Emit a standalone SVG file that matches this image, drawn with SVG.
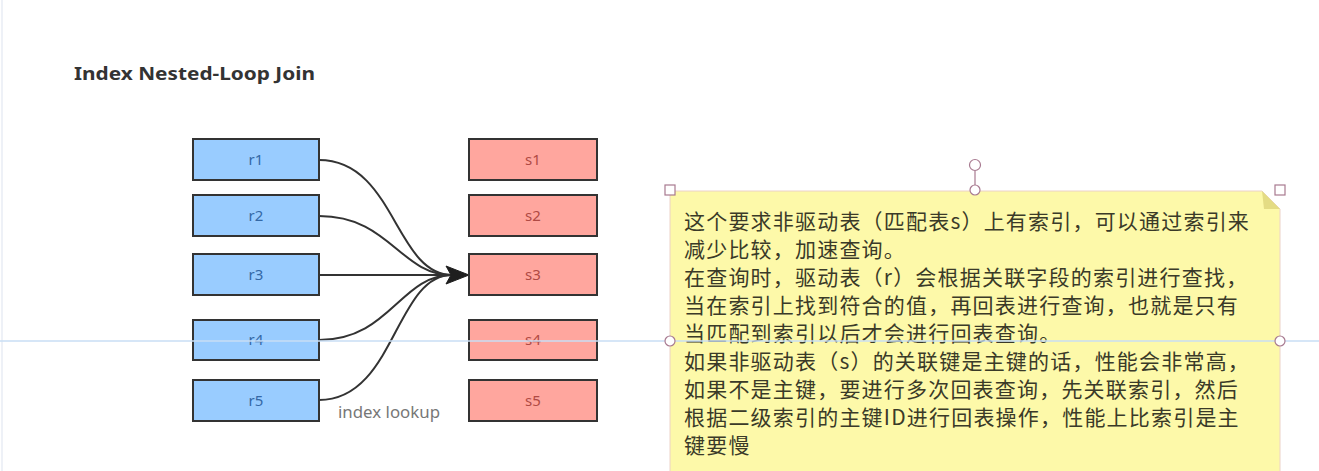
<svg xmlns="http://www.w3.org/2000/svg" width="1319" height="471" viewBox="0 0 1319 471">
<defs>
<style>
.r rect{fill:#99ccff;stroke:#333;stroke-width:2}
.r text{fill:#3468a6;font:15px "Noto Sans","Liberation Sans",sans-serif;text-anchor:middle}
.s rect{fill:#ffa69e;stroke:#333;stroke-width:2}
.s text{fill:#b04a44;font:15px "Noto Sans","Liberation Sans",sans-serif;text-anchor:middle}
.c path{fill:none;stroke:#333;stroke-width:2}
.c .head{fill:#1e1e1e;stroke:#1e1e1e;stroke-width:1}
.note text{font:21px "Noto Sans CJK SC","Noto Sans",sans-serif;fill:#3a3a28;letter-spacing:1.2px}
.h{fill:#fff;stroke:#a87a90;stroke-width:1.2}
</style>
</defs>
<rect width="1319" height="471" fill="#fff"/>
<line x1="2" y1="0" x2="2" y2="471" stroke="#e8ecf4" stroke-width="1.5"/>
<text x="74" y="80" font-family="Noto Sans, Liberation Sans, sans-serif" font-weight="bold" font-size="17" fill="#333" textLength="241" lengthAdjust="spacingAndGlyphs">Index Nested-Loop Join</text>

<g class="c" id="connectors">
<path d="M319,160 C395,160 395,275 452,275"/>
<path d="M319,216 C390,216 400,275 452,275"/>
<path d="M319,275 L452,275"/>
<path d="M319,340 C390,340 400,275 452,275"/>
<path d="M319,400 C395,400 395,275 452,275"/>
<path class="head" d="M446,266 L469,275 L446,284 L451,275 Z"/>
</g>

<g class="r" id="r1"><rect x="193" y="139" width="126" height="41"/><text x="256" y="165">r1</text></g>
<g class="r" id="r2"><rect x="193" y="195" width="126" height="41"/><text x="256" y="221">r2</text></g>
<g class="r" id="r3"><rect x="193" y="254" width="126" height="41"/><text x="256" y="280">r3</text></g>
<g class="r" id="r4"><rect x="193" y="320" width="126" height="40"/><text x="256" y="345">r4</text></g>
<g class="r" id="r5"><rect x="193" y="380" width="126" height="41"/><text x="256" y="406">r5</text></g>

<g class="s" id="s1"><rect x="469" y="139" width="128" height="41"/><text x="533" y="165">s1</text></g>
<g class="s" id="s2"><rect x="469" y="195" width="128" height="41"/><text x="533" y="221">s2</text></g>
<g class="s" id="s3"><rect x="469" y="254" width="128" height="41"/><text x="533" y="280">s3</text></g>
<g class="s" id="s4"><rect x="469" y="320" width="128" height="40"/><text x="533" y="345">s4</text></g>
<g class="s" id="s5"><rect x="469" y="380" width="128" height="41"/><text x="533" y="406">s5</text></g>

<text x="338" y="418" font-family="Noto Sans, Liberation Sans, sans-serif" font-size="16" fill="#777" textLength="102" lengthAdjust="spacingAndGlyphs">index lookup</text>

<g class="note" id="note">
<path d="M670,191 L1262,191 L1280,209 L1280,472 L670,472 Z" fill="#fdf9a9" stroke="#ecd2c8" stroke-width="1"/>
<path d="M1262,191 L1280,209 L1264,209 Z" fill="#e4dc84"/>
<text x="684" y="229">这个要求非驱动表（匹配表s）上有索引，可以通过索引来</text>
<text x="684" y="257">减少比较，加速查询。</text>
<text x="684" y="285">在查询时，驱动表（r）会根据关联字段的索引进行查找，</text>
<text x="684" y="313">当在索引上找到符合的值，再回表进行查询，也就是只有</text>
<text x="684" y="341">当匹配到索引以后才会进行回表查询。</text>
<text x="684" y="369">如果非驱动表（s）的关联键是主键的话，性能会非常高，</text>
<text x="684" y="397">如果不是主键，要进行多次回表查询，先关联索引，然后</text>
<text x="684" y="425">根据二级索引的主键ID进行回表操作，性能上比索引是主</text>
<text x="684" y="453">键要慢</text>
</g>

<line x1="0" y1="341" x2="1319" y2="341" stroke="#c9def5" stroke-width="1.5"/>

<g id="handles">
<line x1="975" y1="171" x2="975" y2="185" stroke="#a87a90" stroke-width="1.2"/>
<circle class="h" cx="975" cy="165" r="5.5"/>
<circle class="h" cx="975" cy="190" r="5"/>
<rect class="h" x="665" y="185" width="10" height="10"/>
<rect class="h" x="1275" y="185" width="10" height="10"/>
<circle class="h" cx="670" cy="341" r="5"/>
<circle class="h" cx="1280" cy="341" r="5"/>
</g>
</svg>
